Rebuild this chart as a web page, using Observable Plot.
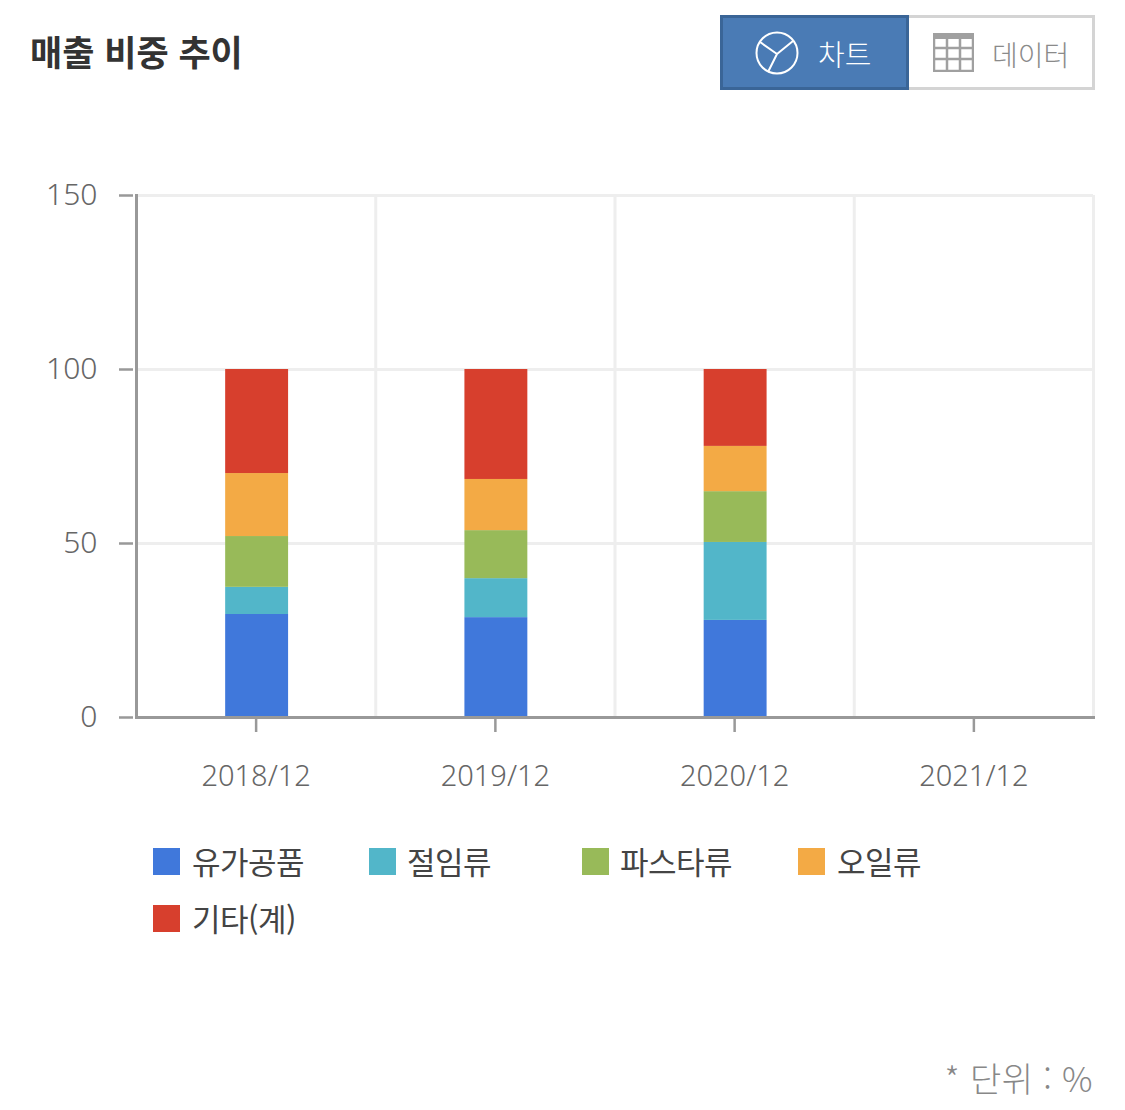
<!DOCTYPE html>
<html lang="ko">
<head>
<meta charset="utf-8">
<script src="https://cdn.jsdelivr.net/npm/d3@7"></script>
<script src="https://cdn.jsdelivr.net/npm/@observablehq/plot@0.6"></script>
<style>
html,body{margin:0;padding:0;background:#fff;font-family:"Noto Sans CJK KR","Noto Sans",sans-serif;}
#page{position:relative;width:1125px;height:1110px;overflow:hidden;}
#title{position:absolute;left:30px;top:26px;font-size:35px;line-height:50px;font-weight:700;color:#333;}
.btn{position:absolute;top:15px;height:75px;box-sizing:border-box;border:3px solid;}
#b1{left:720px;width:189px;background:#4a7bb5;border-color:#3a6597;}
#b2{left:909px;width:186px;background:#fff;border-color:#d4d4d4;border-left:none;}
.btn svg{position:absolute;}
.btn span{position:absolute;line-height:40px;font-weight:300;white-space:nowrap;}
#chart{position:absolute;left:0;top:150px;}
#chart svg{display:block;overflow:visible;}
.swatch{position:absolute;width:27px;height:27px;}
.lab{position:absolute;font-size:31px;line-height:40px;color:#444;font-weight:400;white-space:nowrap;letter-spacing:-0.5px;}
#unit{position:absolute;right:32px;top:1054px;font-size:34px;line-height:48px;color:#888;font-weight:300;white-space:nowrap;letter-spacing:0.4px;}
</style>
</head>
<body>
<div id="page">
  <div id="title">매출 비중 추이</div>
  <div class="btn" id="b1">
    <svg style="left:32px;top:13px" width="44" height="44" viewBox="0 0 44 44" fill="none" stroke="#fff" stroke-width="2">
      <circle cx="22" cy="22" r="20.5"/><path d="M22 23 L5 11 M22 23 L38 10 M22 23 L13 41"/>
    </svg>
    <span style="left:95px;top:15px;color:#fff;font-size:29px">차트</span>
  </div>
  <div class="btn" id="b2">
    <svg style="left:24px;top:15px" width="41" height="39" viewBox="0 0 41 39" fill="none" stroke="#a0a0a0" stroke-width="2.5">
      <rect x="0" y="0" width="41" height="6" fill="#a0a0a0" stroke="none"/>
      <rect x="1" y="1" width="39" height="37"/><path d="M14 5V38 M27 5V38 M1 15H40 M1 26H40"/>
    </svg>
    <span style="left:83px;top:16px;color:#8a8a8a;font-size:28px">데이터</span>
  </div>
  <div id="chart"></div>
  <div id="legend"></div>
  <div id="unit">* 단위 : %</div>
</div>
<script>
const categories = ["2018/12","2019/12","2020/12","2021/12"];
const seriesNames = ["유가공품","절임류","파스타류","오일류","기타(계)"];
const seriesColors = ["#4078db","#52b6c9","#98ba59","#f3aa45","#d73f2d"];
const dairy = [29.6,28.7,27.9];
const pickled = [7.8,11.2,22.4];
const pasta = [14.6,13.8,14.6];
const oil = [18.1,14.7,13.0];
const other = [29.9,31.6,22.1];
const seriesValues = [dairy,pickled,pasta,oil,other];
const yTicks = [0,50,100,150];

const rows = seriesNames.flatMap((name,i)=>seriesValues[i].map((v,j)=>({category:categories[j],name,value:v})));

const W=1125, H=640, ML=136, MR=32, MT=45, MB=73;
const step=(W-ML-MR)/categories.length;

const plot = Plot.plot({
  width:W, height:H, marginLeft:ML, marginRight:MR, marginTop:MT, marginBottom:MB,
  style:{background:"transparent",fontFamily:'"Noto Sans","Noto Sans CJK KR",sans-serif'},
  x:{domain:categories,paddingInner:0.737,paddingOuter:0.3685,round:false,label:null},
  y:{domain:[0,150],label:null},
  color:{domain:seriesNames,range:seriesColors},
  marks:[
    Plot.gridY(yTicks,{stroke:"#eeeeee",strokeOpacity:1,strokeWidth:3}),
    Plot.ruleX(categories,{x:d=>d,dx:step/2,stroke:"#eeeeee",strokeWidth:3}),
    Plot.barY(rows,{x:"category",y:"value",fill:"name",order:seriesNames,dx:1}),
    Plot.frame({anchor:"left",stroke:"#999",strokeWidth:3}),
    Plot.frame({anchor:"bottom",stroke:"#999",strokeWidth:3}),
    Plot.axisY({ticks:yTicks,tickSize:14,dx:-3,tickPadding:22,stroke:"#999",strokeWidth:2.5,fill:"#666",fontSize:30,label:null}),
    Plot.axisX({tickSize:13,dy:2,tickPadding:33,stroke:"#999",strokeWidth:2.5,fill:"#666",fontSize:29,label:null})
  ]
});
plot.querySelectorAll("text").forEach(t=>t.style.fontWeight="300");
document.getElementById("chart").appendChild(plot);

const legendPos=[[153,848,192],[369,848,407],[582,848,620],[798,848,837],[153,905,192]];
const lg=document.getElementById("legend");
seriesNames.forEach((n,i)=>{
  const [sx,sy,tx]=legendPos[i];
  const s=document.createElement("div");s.className="swatch";s.style.cssText=`left:${sx}px;top:${sy}px;background:${seriesColors[i]}`;
  const t=document.createElement("div");t.className="lab";t.style.cssText=`left:${tx}px;top:${sy-7}px`;t.textContent=n;
  lg.append(s,t);
});
</script>
</body>
</html>
